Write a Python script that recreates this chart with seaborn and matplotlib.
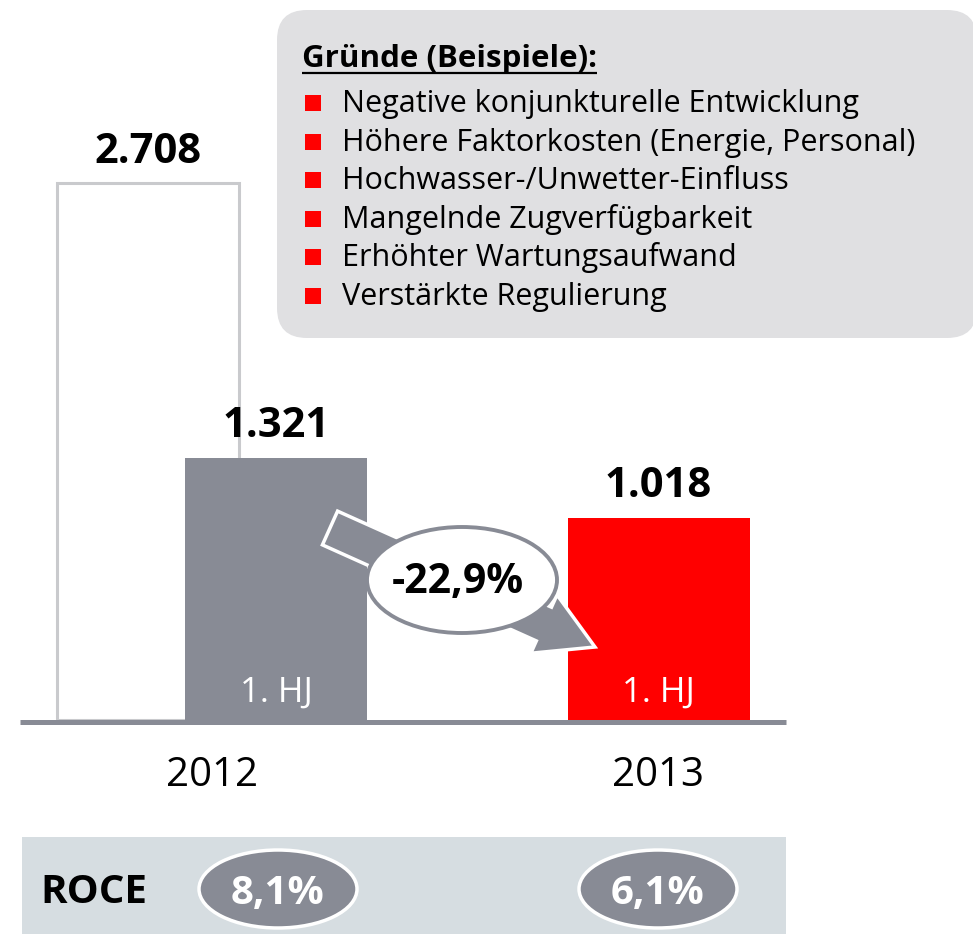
import seaborn as sns
import matplotlib.pyplot as plt
import pandas as pd
from matplotlib.patches import FancyArrow, Ellipse, FancyBboxPatch, Rectangle

# Daten
years = ["2012", "2013"]
bar_kind = ["Gesamtjahr 2012", "1. HJ 2012", "1. HJ 2013"]
bar_values = [2708, 1321, 1018]
hj_label = "1. HJ"
roce = [8.1, 6.1]
reasons_title = "Gründe (Beispiele):"
reasons = [
    "Negative konjunkturelle Entwicklung",
    "Höhere Faktorkosten (Energie, Personal)",
    "Hochwasser-/Unwetter-Einfluss",
    "Mangelnde Zugverfügbarkeit",
    "Erhöhter Wartungsaufwand",
    "Verstärkte Regulierung",
]

# Layout (Pixel)
W, H = 973, 934
bar_pos = [148, 276, 658.5]
bar_w = 182
year_pos = [212, 658]
base_px = 719.5
px_per_unit = 0.198

GRAY = "#888b95"
RED = "#ff0000"

sns.set_theme(style="white")
plt.rcParams["font.family"] = ["Open Sans", "DejaVu Sans"]
plt.rcParams["text.color"] = "black"

def de(v):
    return f"{v:,}".replace(",", ".")

def pct(v):
    return f"{v:.1f}%".replace(".", ",")

fig = plt.figure(figsize=(W / 100, H / 100), dpi=100)

# Balken
ax = fig.add_axes([0, 0, 1, 1], zorder=1)
df = pd.DataFrame({"pos": bar_pos, "value": bar_values, "kind": bar_kind})
sns.barplot(data=df, x="pos", y="value", native_scale=True,
            width=bar_w / (bar_pos[1] - bar_pos[0]), color=GRAY,
            saturation=1, ax=ax)
for p, kind in zip(ax.patches, bar_kind):
    if kind.startswith("Gesamt"):
        p.set_facecolor("white")
        p.set_edgecolor("#c9cacd")
        p.set_linewidth(2.2)
        p.set_zorder(1)
    else:
        p.set_facecolor(RED if "2013" in kind else GRAY)
        p.set_edgecolor("none")
        p.set_zorder(2)
ax.set_xlim(0, W)
ax.set_ylim(-(H - base_px) / px_per_unit, base_px / px_per_unit)
ax.axis("off")

for x, v in zip(bar_pos, bar_values):
    ax.annotate(de(v), (x, v), xytext=(0, 14.8), textcoords="offset points",
                ha="center", va="baseline", fontsize=30, fontweight="bold",
                color="black")
for x in bar_pos[1:]:
    ax.annotate(hj_label, (x, 0), xytext=(0, 12.5), textcoords="offset points",
                ha="center", va="baseline", fontsize=25, color="white", zorder=5)
for x, y in zip(year_pos, years):
    ax.annotate(y, (x, 0), xytext=(0, -47.9), textcoords="offset points",
                ha="center", va="baseline", fontsize=29, color="black")

# Overlay in Pixelkoordinaten
ov = fig.add_axes([0, 0, 1, 1], zorder=2)
ov.set_xlim(0, W)
ov.set_ylim(H, 0)
ov.axis("off")
ov.patch.set_alpha(0)

# Grundlinie
ov.plot([20, 786], [721.5, 721.5], color=GRAY, lw=3.6, solid_capstyle="butt")

# Gründe-Box
ov.add_patch(FancyBboxPatch((277 + 30, 10 + 30), 700 - 60, 328 - 60,
                            boxstyle="round,pad=30", fc="#e0e0e2", ec="none", zorder=0))
t = ov.text(302, 67, reasons_title, fontsize=22.5, fontweight="bold", va="baseline")
fig.canvas.draw()
bb = t.get_window_extent().transformed(ov.transData.inverted())
ov.plot([302, bb.x1], [72.5, 72.5], color="black", lw=1.6, solid_capstyle="butt")
for i, r in enumerate(reasons):
    yb = 112 + i * 38.6
    ov.add_patch(Rectangle((305, yb - 17), 16, 16, fc=RED, ec="none"))
    ov.text(342, yb, r, fontsize=22, va="baseline", color="black")

# Pfeil mit Veränderung
change = (bar_values[2] / bar_values[1] - 1) * 100
ov.add_patch(FancyArrow(330, 528, 265, 119, width=37, head_width=64, head_length=56,
                        length_includes_head=True, fc=GRAY, ec="white", lw=2.5, zorder=3))
ov.add_patch(Ellipse((462, 580), 190, 106, fc="white", ec=GRAY, lw=2.8, zorder=4))
ov.text(458, 593, ("-" if change < 0 else "+") + pct(abs(change)), fontsize=29.5,
        fontweight="bold", ha="center", va="baseline", zorder=5)

# ROCE-Band
ov.add_patch(Rectangle((22, 837), 764, 97, fc="#d6dde1", ec="none", zorder=0))
ov.text(40, 903, "ROCE", fontsize=29, fontweight="bold", va="baseline")
for x, v in zip(year_pos, roce):
    xc = x + (66 if x < 400 else 0)
    ov.add_patch(Ellipse((xc, 889), 158, 78, fc=GRAY, ec="white", lw=2.5, zorder=3))
    ov.text(xc - 1, 904, pct(v), fontsize=29, fontweight="bold", color="white",
            ha="center", va="baseline", zorder=4)

fig.savefig("out.png", dpi=100)
